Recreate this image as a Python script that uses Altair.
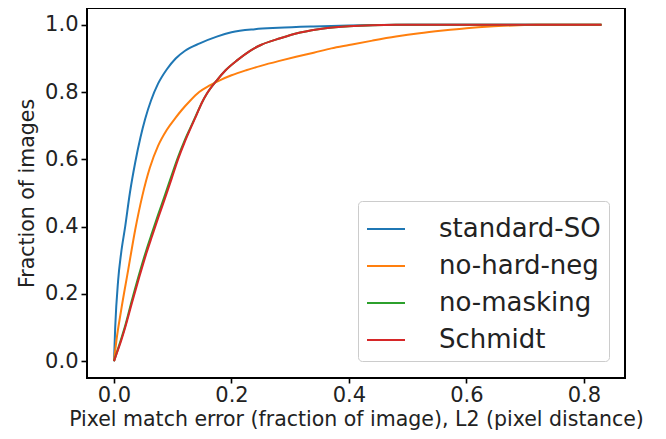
import altair as alt
import pandas as pd

series_names = ["standard-SO", "no-hard-neg", "no-masking", "Schmidt"]
series_colors = ["#1f77b4", "#ff7f0e", "#2ca02c", "#d62728"]

blue_x = [0, 0.002, 0.007, 0.012, 0.019, 0.027, 0.036, 0.045, 0.053, 0.063, 0.075, 0.09, 0.105, 0.121, 0.146, 0.175, 0.2, 0.24, 0.28, 0.34, 0.4, 0.5, 0.83]
blue_y = [0, 0.10, 0.24, 0.32, 0.40, 0.50, 0.59, 0.665, 0.72, 0.775, 0.825, 0.868, 0.90, 0.923, 0.945, 0.965, 0.978, 0.987, 0.991, 0.995, 0.998, 1.0, 1.0]

orange_x = [0, 0.004, 0.012, 0.024, 0.036, 0.048, 0.061, 0.075, 0.09, 0.105, 0.115, 0.13, 0.145, 0.163, 0.18, 0.2, 0.225, 0.25, 0.28, 0.31, 0.34, 0.37, 0.4, 0.44, 0.48, 0.52, 0.56, 0.6, 0.64, 0.68, 0.72, 0.83]
orange_y = [0, 0.06, 0.15, 0.27, 0.39, 0.49, 0.575, 0.64, 0.688, 0.724, 0.746, 0.775, 0.80, 0.82, 0.835, 0.85, 0.865, 0.878, 0.892, 0.905, 0.917, 0.93, 0.94, 0.953, 0.965, 0.975, 0.983, 0.99, 0.995, 0.998, 1.0, 1.0]

green_x = [0, 0.005, 0.012, 0.019, 0.03, 0.043, 0.055, 0.065, 0.075, 0.087, 0.098, 0.109, 0.12, 0.129, 0.14, 0.15, 0.158, 0.175, 0.19, 0.21, 0.231, 0.25, 0.283, 0.317, 0.36, 0.4, 0.44, 0.48, 0.83]
green_y = [0, 0.027, 0.065, 0.105, 0.178, 0.26, 0.33, 0.383, 0.435, 0.495, 0.552, 0.607, 0.655, 0.69, 0.732, 0.77, 0.795, 0.835, 0.865, 0.895, 0.922, 0.94, 0.96, 0.977, 0.99, 0.996, 0.999, 1.0, 1.0]

red_x = [0, 0.005, 0.012, 0.019, 0.03, 0.043, 0.055, 0.065, 0.075, 0.087, 0.098, 0.109, 0.12, 0.129, 0.14, 0.15, 0.158, 0.175, 0.19, 0.21, 0.231, 0.25, 0.283, 0.317, 0.36, 0.4, 0.44, 0.48, 0.83]
red_y = [0, 0.025, 0.06, 0.10, 0.17, 0.25, 0.32, 0.373, 0.425, 0.485, 0.542, 0.60, 0.65, 0.687, 0.73, 0.77, 0.795, 0.835, 0.865, 0.895, 0.922, 0.94, 0.96, 0.977, 0.99, 0.996, 0.999, 1.0, 1.0]

x_ticks = [0.0, 0.2, 0.4, 0.6, 0.8]
y_ticks = [0.0, 0.2, 0.4, 0.6, 0.8, 1.0]

frames = []
for name, xs, ys in zip(series_names,
                        [blue_x, orange_x, green_x, red_x],
                        [blue_y, orange_y, green_y, red_y]):
    frames.append(pd.DataFrame({"x": xs, "y": ys, "series": name}))
df = pd.concat(frames, ignore_index=True)

FONT = "DejaVu Sans"

chart = alt.Chart(df).mark_line(strokeWidth=2, interpolate="monotone").encode(
    x=alt.X("x:Q",
            scale=alt.Scale(domain=[-0.046, 0.870], nice=False, zero=False),
            axis=alt.Axis(values=x_ticks, format=".1f",
                          title="Pixel match error (fraction of image), L2 (pixel distance)")),
    y=alt.Y("y:Q",
            scale=alt.Scale(domain=[-0.05, 1.05], nice=False, zero=False),
            axis=alt.Axis(values=y_ticks, format=".1f", title="Fraction of images")),
    color=alt.Color("series:N",
                    scale=alt.Scale(domain=series_names, range=series_colors),
                    legend=alt.Legend(title=None, orient="none", legendX=271, legendY=193,
                                      symbolType="stroke", symbolSize=1444,
                                      symbolStrokeWidth=2, labelFontSize=26,
                                      labelFont=FONT, labelColor="#222222",
                                      labelLimit=400,
                                      labelOffset=33, rowPadding=4, padding=8,
                                      fillColor="white", strokeColor="#cccccc",
                                      cornerRadius=4)),
    detail="series:N",
).properties(
    width=538, height=370,
    autosize=alt.AutoSizeParams(type="none"),
    padding={"left": 79, "top": 0, "right": 33, "bottom": 53},
).configure_view(
    stroke="black", strokeWidth=2
).configure_axis(
    grid=False, domain=False,
    tickColor="black", tickWidth=1.6,
    labelFont=FONT, labelFontSize=21, labelColor="#222222",
    titleFont=FONT, titleFontSize=20.5, titleFontWeight="normal", titleColor="#222222",
).configure_axisX(
    tickSize=5, labelPadding=1, titlePadding=4
).configure_axisY(
    tickSize=6, labelPadding=3, titlePadding=7
)

chart.save("out.html", embed_options={"renderer": "svg", "actions": False})
